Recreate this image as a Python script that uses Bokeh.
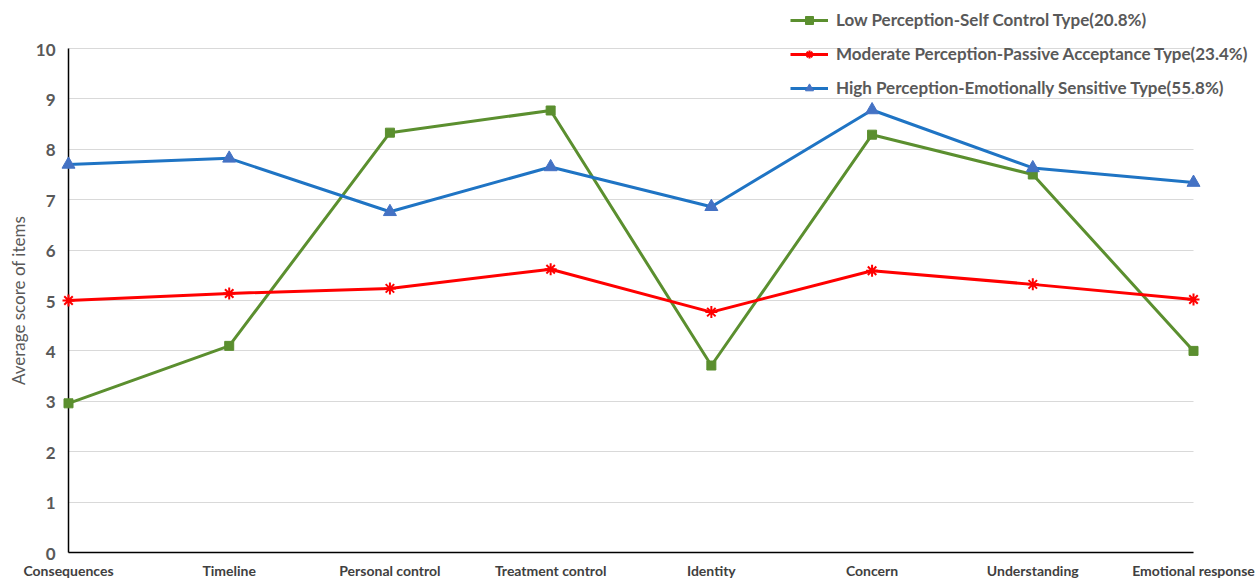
import math
from bokeh.plotting import figure
from bokeh.models import Legend, LegendItem, FixedTicker, Range1d
from bokeh.core.properties import value
from bokeh.embed import file_html
from bokeh.resources import INLINE

categories = ["Consequences", "Timeline", "Personal control", "Treatment control",
              "Identity", "Concern", "Understanding", "Emotional response"]
low_self_control = [2.96, 4.10, 8.33, 8.77, 3.71, 8.29, 7.50, 4.00]
moderate_passive = [5.00, 5.14, 5.24, 5.62, 4.77, 5.59, 5.32, 5.02]
high_emotional = [7.70, 7.82, 6.76, 7.65, 6.86, 8.78, 7.63, 7.34]
series_labels = ["Low Perception-Self Control Type(20.8%)",
                 "Moderate Perception-Passive Acceptance Type(23.4%)",
                 "High Perception-Emotionally Sensitive Type(55.8%)"]
y_ticks = [0, 1, 2, 3, 4, 5, 6, 7, 8, 9, 10]
y_title = "Average score of items"

xs = list(range(len(categories)))
n_last = len(categories) - 1
y_min, y_max = y_ticks[0], y_ticks[-1]

# layout: the frame covers the whole canvas so that the legend (partly outside
# the 0..10 area), edge markers and axis texts are not clipped
PLOT_W, PLOT_H = 1256, 579
AX_LEFT_PX, AX_RIGHT_PX = 68, 1193      # where first / last categories lie (from left)
Y0_PX, Y10_PX = 552, 48                 # where 0 and 10 lie (from top)
ux = n_last / (AX_RIGHT_PX - AX_LEFT_PX)
uy = (y_max - y_min) / (Y0_PX - Y10_PX)
x_start = -AX_LEFT_PX * ux
x_end = n_last + (PLOT_W - AX_RIGHT_PX) * ux
y_start = -(PLOT_H - Y0_PX) * uy
y_end = Y0_PX * uy

p = figure(width=PLOT_W, height=PLOT_H, output_backend="svg", toolbar_location=None,
           x_range=Range1d(x_start, x_end), y_range=Range1d(y_start, y_end),
           x_axis_location=None, y_axis_location=None,
           min_border_left=0, min_border_right=0, min_border_top=0, min_border_bottom=0)
p.outline_line_color = None
p.background_fill_color = "white"
p.border_fill_color = "white"

GREEN = "#5b8f2f"
RED = "#ff0000"
BLUE = "#1f74c4"
TRI = "#4472c4"
TEXT = "#595959"

# grid lines limited to the category span
p.xgrid.grid_line_color = None
p.ygrid.ticker = FixedTicker(ticks=y_ticks)
p.ygrid.cross_bounds = (0, n_last)
p.ygrid.grid_line_color = "#d9d9d9"
p.ygrid.grid_line_width = 1

# value axis: rule, tick labels and title
p.segment(x0=[0], y0=[y_min], x1=[0], y1=[y_max], line_color="black", line_width=1.5)
p.text(x=[0] * len(y_ticks), y=y_ticks, text=[str(t) for t in y_ticks],
       x_offset=-13, y_offset=1, text_align="right", text_baseline="middle",
       text_font=value("Lato"), text_font_style="bold", text_font_size="17px", text_color=TEXT)
p.text(x=[0], y=[(y_min + y_max) / 2], text=[y_title], angle=math.pi / 2,
       x_offset=-50, text_align="center", text_baseline="middle",
       text_font=value("Lato"), text_font_size="17px", text_color=TEXT)

# category axis: rule and labels
p.segment(x0=[0], y0=[y_min], x1=[n_last], y1=[y_min], line_color="black", line_width=1.5)
p.text(x=xs, y=[y_min] * len(xs), text=categories,
       y_offset=9, text_align="center", text_baseline="top",
       text_font=value("Lato"), text_font_style="bold", text_font_size="14px", text_color="#404040")

g_line = p.line(xs, low_self_control, line_color=GREEN, line_width=3)
g_mark = p.scatter(xs, low_self_control, marker="square", size=9, fill_color=GREEN, line_color=GREEN)
r_line = p.line(xs, moderate_passive, line_color=RED, line_width=3)
r_mark = p.scatter(xs, moderate_passive, marker="asterisk", size=12, line_color=RED, line_width=2)
b_line = p.line(xs, high_emotional, line_color=BLUE, line_width=3)
b_mark = p.scatter(xs, high_emotional, marker="triangle", size=13, fill_color=TRI, line_color=TRI)

legend = Legend(items=[
    LegendItem(label=series_labels[0], renderers=[g_line, g_mark]),
    LegendItem(label=series_labels[1], renderers=[r_line, r_mark]),
    LegendItem(label=series_labels[2], renderers=[b_line, b_mark]),
], location=(790, PLOT_H - 98))
legend.background_fill_alpha = 0
legend.border_line_alpha = 0
legend.padding = 0
legend.margin = 0
legend.spacing = 13
legend.glyph_width = 38
legend.glyph_height = 20
legend.label_height = 20
legend.label_standoff = 8
legend.label_text_font = "Lato"
legend.label_text_font_style = "bold"
legend.label_text_font_size = "17px"
legend.label_text_color = TEXT
p.add_layout(legend, "center")

open("out.html", "w").write(file_html(p, INLINE))
